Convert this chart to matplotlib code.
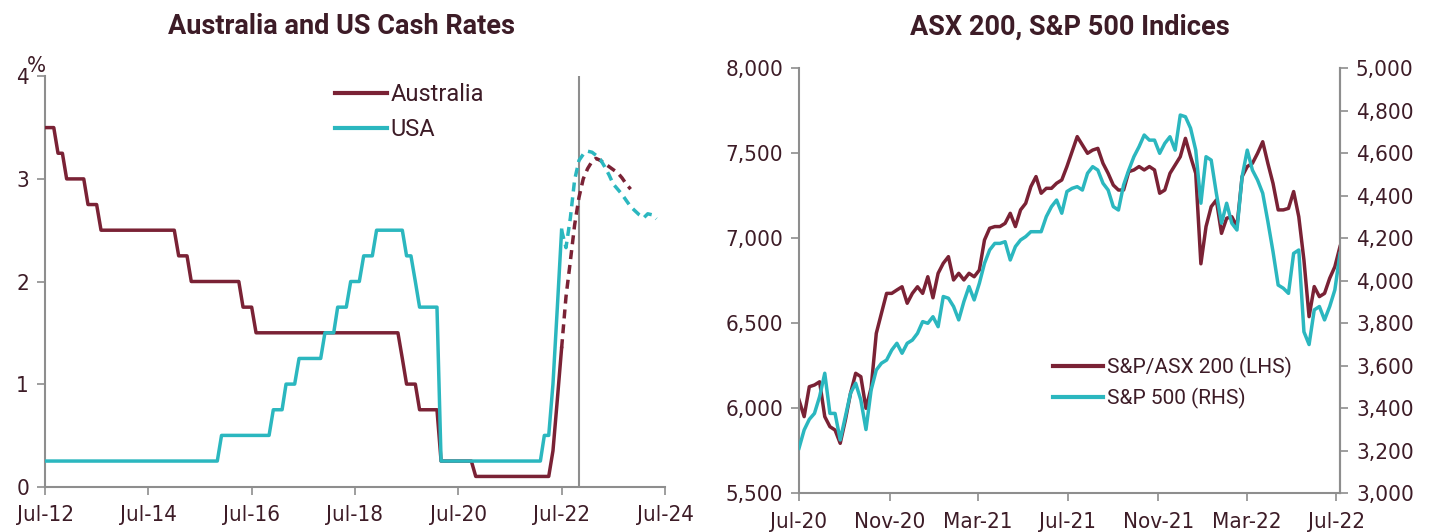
import matplotlib
matplotlib.use("Agg")
import matplotlib.pyplot as plt
import matplotlib.font_manager as fm
from matplotlib.font_manager import FontProperties
import pandas as pd
import numpy as np

# ---------------- data ----------------
# Left chart: monthly cash rates, Jul-2012 .. Jul-2022 (121 months)
aus_rate = ([3.5] * 3 + [3.25] * 2 + [3.0] * 5 + [2.75] * 3 + [2.5] * 18 + [2.25] * 3 +
            [2.0] * 12 + [1.75] * 3 + [1.5] * 34 + [1.25] * 1 + [1.0] * 3 + [0.75] * 5 +
            [0.25] * 8 + [0.1] * 18 + [0.35, 0.85, 1.35])
usa_rate = ([0.25] * 41 + [0.5] * 12 + [0.75] * 3 + [1.0] * 3 + [1.25] * 6 + [1.5] * 3 +
            [1.75] * 3 + [2.0] * 3 + [2.25] * 3 + [2.5] * 7 + [2.25] * 2 + [2.0] * 1 +
            [1.75] * 5 + [0.25] * 24 + [0.5] * 2 + [1.0, 1.75, 2.5])
rates_start = "2012-07-01"

# Market-implied paths (dashed), monthly from Jul-2022
aus_fcst = [1.35, 1.85, 2.2, 2.55, 2.82, 3.0, 3.1, 3.17, 3.2, 3.18, 3.15, 3.12, 3.09,
            3.06, 3.01, 2.95, 2.9]
usa_fcst = [2.5, 2.33, 2.62, 2.99, 3.18, 3.24, 3.27, 3.26, 3.23, 3.19, 3.12, 3.04, 2.95,
            2.9, 2.85, 2.79, 2.73, 2.69, 2.65, 2.62, 2.66, 2.65, 2.61]
fcst_start = "2022-07-01"
today_line = "2022-11-01"

# Right chart: weekly index levels from Jul-2020
asx200 = [6049, 5951, 6127, 6137, 6156, 5951, 5892, 5872, 5794, 5931,
          6088, 6206, 6186, 6000, 6120, 6441, 6559, 6676, 6676, 6696,
          6715, 6618, 6676, 6715, 6676, 6774, 6650, 6794, 6853, 6892,
          6755, 6794, 6755, 6794, 6774, 6813, 6990, 7059, 7069, 7069,
          7088, 7147, 7069, 7167, 7206, 7304, 7363, 7265, 7294, 7294,
          7324, 7343, 7422, 7510, 7598, 7549, 7500, 7519, 7529, 7441,
          7382, 7313, 7284, 7284, 7392, 7402, 7422, 7402, 7422, 7402,
          7265, 7284, 7382, 7431, 7480, 7588, 7480, 7382, 6850, 7069,
          7186, 7225, 7029, 7118, 7127, 7069, 7363, 7422, 7441, 7500,
          7568, 7441, 7323, 7167, 7167, 7176, 7275, 7127, 6872, 6539,
          6716, 6657, 6676, 6765, 6833, 6951]
sp500 = [3212, 3298, 3348, 3376, 3455, 3565, 3376, 3376, 3251, 3361,
         3471, 3518, 3439, 3300, 3486, 3580, 3612, 3627, 3674, 3706,
         3659, 3706, 3721, 3753, 3808, 3800, 3831, 3784, 3926, 3918,
         3879, 3816, 3902, 3973, 3910, 3988, 4082, 4145, 4176, 4176,
         4184, 4098, 4161, 4192, 4208, 4231, 4231, 4231, 4302, 4349,
         4380, 4318, 4420, 4435, 4443, 4427, 4506, 4537, 4521, 4459,
         4427, 4349, 4333, 4451, 4521, 4584, 4631, 4686, 4662, 4662,
         4600, 4647, 4678, 4615, 4780, 4772, 4718, 4615, 4365, 4584,
         4568, 4412, 4271, 4365, 4271, 4239, 4490, 4615, 4521, 4474,
         4412, 4279, 4137, 3980, 3965, 3941, 4129, 4145, 3760, 3700,
         3863, 3879, 3816, 3879, 3957, 4129]
idx_start = "2020-07-01"

left_xticks = ["2012-07-01", "2014-07-01", "2016-07-01", "2018-07-01",
               "2020-07-01", "2022-07-01", "2024-07-01"]
left_xlabels = ["Jul-12", "Jul-14", "Jul-16", "Jul-18", "Jul-20", "Jul-22", "Jul-24"]
right_xticks = ["2020-07-01", "2020-11-01", "2021-03-01", "2021-07-01",
                "2021-11-01", "2022-03-01", "2022-07-01"]
right_xlabels = ["Jul-20", "Nov-20", "Mar-21", "Jul-21", "Nov-21", "Mar-22", "Jul-22"]

# ---------------- style ----------------
MAROON = "#7a2235"
TEAL = "#2bb7bf"
GREY = "#8e8e8e"
TXT = "#3d1c27"

entries = fm.fontManager.ttflist
names = {f.name for f in entries}
if any(f.name == "DejaVu Sans" and "Condensed" in f.fname for f in entries):
    tick_fp = FontProperties(family="DejaVu Sans", stretch="condensed", size=16)
elif "Liberation Sans Narrow" in names:
    tick_fp = FontProperties(family="Liberation Sans Narrow", size=17)
else:
    tick_fp = FontProperties(family="Roboto", size=15.5)
leg_family = "Roboto" if "Roboto" in names else "DejaVu Sans"

W, H = 1429, 532
fig = plt.figure(figsize=(W / 100, H / 100), dpi=100)
fig.patch.set_facecolor("white")


def px_rect(x0, y0_top, x1, y1_bottom):
    return [x0 / W, 1 - y1_bottom / H, (x1 - x0) / W, (y1_bottom - y0_top) / H]


def style_axis(ax, spines):
    for s in ["top", "right", "left", "bottom"]:
        ax.spines[s].set_visible(s in spines)
        ax.spines[s].set_color(GREY)
        ax.spines[s].set_linewidth(1.5)
    ax.tick_params(axis="both", which="both", direction="out", length=5.5,
                   width=1.2, color=GREY, labelcolor=TXT)


# ---------------- left chart ----------------
axL = fig.add_axes(px_rect(45, 76.3, 665, 486.7))
style_axis(axL, ["left", "bottom"])
mdates = pd.date_range(rates_start, periods=len(aus_rate), freq="MS")
fdates_a = pd.date_range(fcst_start, periods=len(aus_fcst), freq="MS")
fdates_u = pd.date_range(fcst_start, periods=len(usa_fcst), freq="MS")

axL.axvline(pd.Timestamp(today_line), color=GREY, lw=1.5, zorder=1)
la, = axL.plot(mdates, aus_rate, color=MAROON, lw=2.5, label="Australia", zorder=3)
lu, = axL.plot(mdates, usa_rate, color=TEAL, lw=2.5, label="USA", zorder=4)
axL.plot(fdates_a, aus_fcst, color=MAROON, lw=2.5, ls=(0, (2.6, 1.7)), zorder=3)
axL.plot(fdates_u, usa_fcst, color=TEAL, lw=2.5, ls=(0, (2.6, 1.7)), zorder=4)

axL.set_xlim(pd.Timestamp(left_xticks[0]), pd.Timestamp(left_xticks[-1]))
axL.set_ylim(0, 4)
axL.set_yticks([0, 1, 2, 3, 4])
axL.set_yticklabels(["0", "1", "2", "3", "4"], fontproperties=tick_fp)
axL.set_xticks([pd.Timestamp(t) for t in left_xticks])
axL.set_xticklabels(left_xlabels, fontproperties=tick_fp)
axL.tick_params(axis="x", pad=8)
axL.tick_params(axis="y", pad=6)
fig.text(36 / W, 1 - 66 / H, "%", ha="center", va="center", color=TXT,
         fontproperties=tick_fp)

legL = axL.legend(handles=[la, lu], loc="upper left",
                  bbox_to_anchor=(335 / W, 1 - 83 / H), bbox_transform=fig.transFigure,
                  frameon=False, borderpad=0, borderaxespad=0, handlelength=2.2,
                  handletextpad=0.15, labelspacing=0.5,
                  prop={"family": leg_family, "size": 17})
for t in legL.get_texts():
    t.set_color(TXT)
for h in legL.legend_handles:
    h.set_linewidth(3.0)

fig.text(341 / W, 1 - 27 / H, "Australia and US Cash Rates", ha="center", va="center",
         color=TXT, fontsize=19.5, fontweight="bold", family=leg_family)

# ---------------- right chart ----------------
axR = fig.add_axes(px_rect(799, 68.3, 1340, 493.3))
style_axis(axR, ["left", "bottom", "right"])
axR2 = axR.twinx()
style_axis(axR2, ["right"])
wdates = pd.date_range(idx_start, periods=len(asx200), freq="7D")

l1, = axR.plot(wdates, asx200, color=MAROON, lw=2.5, label="S&P/ASX 200 (LHS)")
l2, = axR2.plot(wdates, sp500, color=TEAL, lw=2.5, label="S&P 500 (RHS)")

axR.set_xlim(pd.Timestamp(right_xticks[0]), wdates[-1])
axR.set_ylim(5500, 8000)
axR2.set_ylim(3000, 5000)
axR.set_yticks(np.arange(5500, 8001, 500))
axR2.set_yticks(np.arange(3000, 5001, 200))
axR.set_yticklabels([f"{v:,}" for v in np.arange(5500, 8001, 500)], fontproperties=tick_fp)
axR2.set_yticklabels([f"{v:,}" for v in np.arange(3000, 5001, 200)], fontproperties=tick_fp)
axR.set_xticks([pd.Timestamp(t) for t in right_xticks])
axR.set_xticklabels(right_xlabels, fontproperties=tick_fp)
axR.tick_params(axis="x", pad=8)
axR.tick_params(axis="y", pad=6)
axR2.tick_params(axis="y", pad=6)

legR = axR2.legend(handles=[l1, l2], loc="upper left",
                   bbox_to_anchor=(1053 / W, 1 - 357 / H), bbox_transform=fig.transFigure,
                   frameon=False, borderpad=0, borderaxespad=0, handlelength=2.4,
                   handletextpad=0.2, labelspacing=0.45,
                   prop={"family": leg_family, "size": 15})
for t in legR.get_texts():
    t.set_color(TXT)
for h in legR.legend_handles:
    h.set_linewidth(3.0)

fig.text(1070 / W, 1 - 27 / H, "ASX 200, S&P 500 Indices", ha="center", va="center",
         color=TXT, fontsize=19.5, fontweight="bold", family=leg_family)

fig.savefig("out.png", dpi=100, facecolor="white")
